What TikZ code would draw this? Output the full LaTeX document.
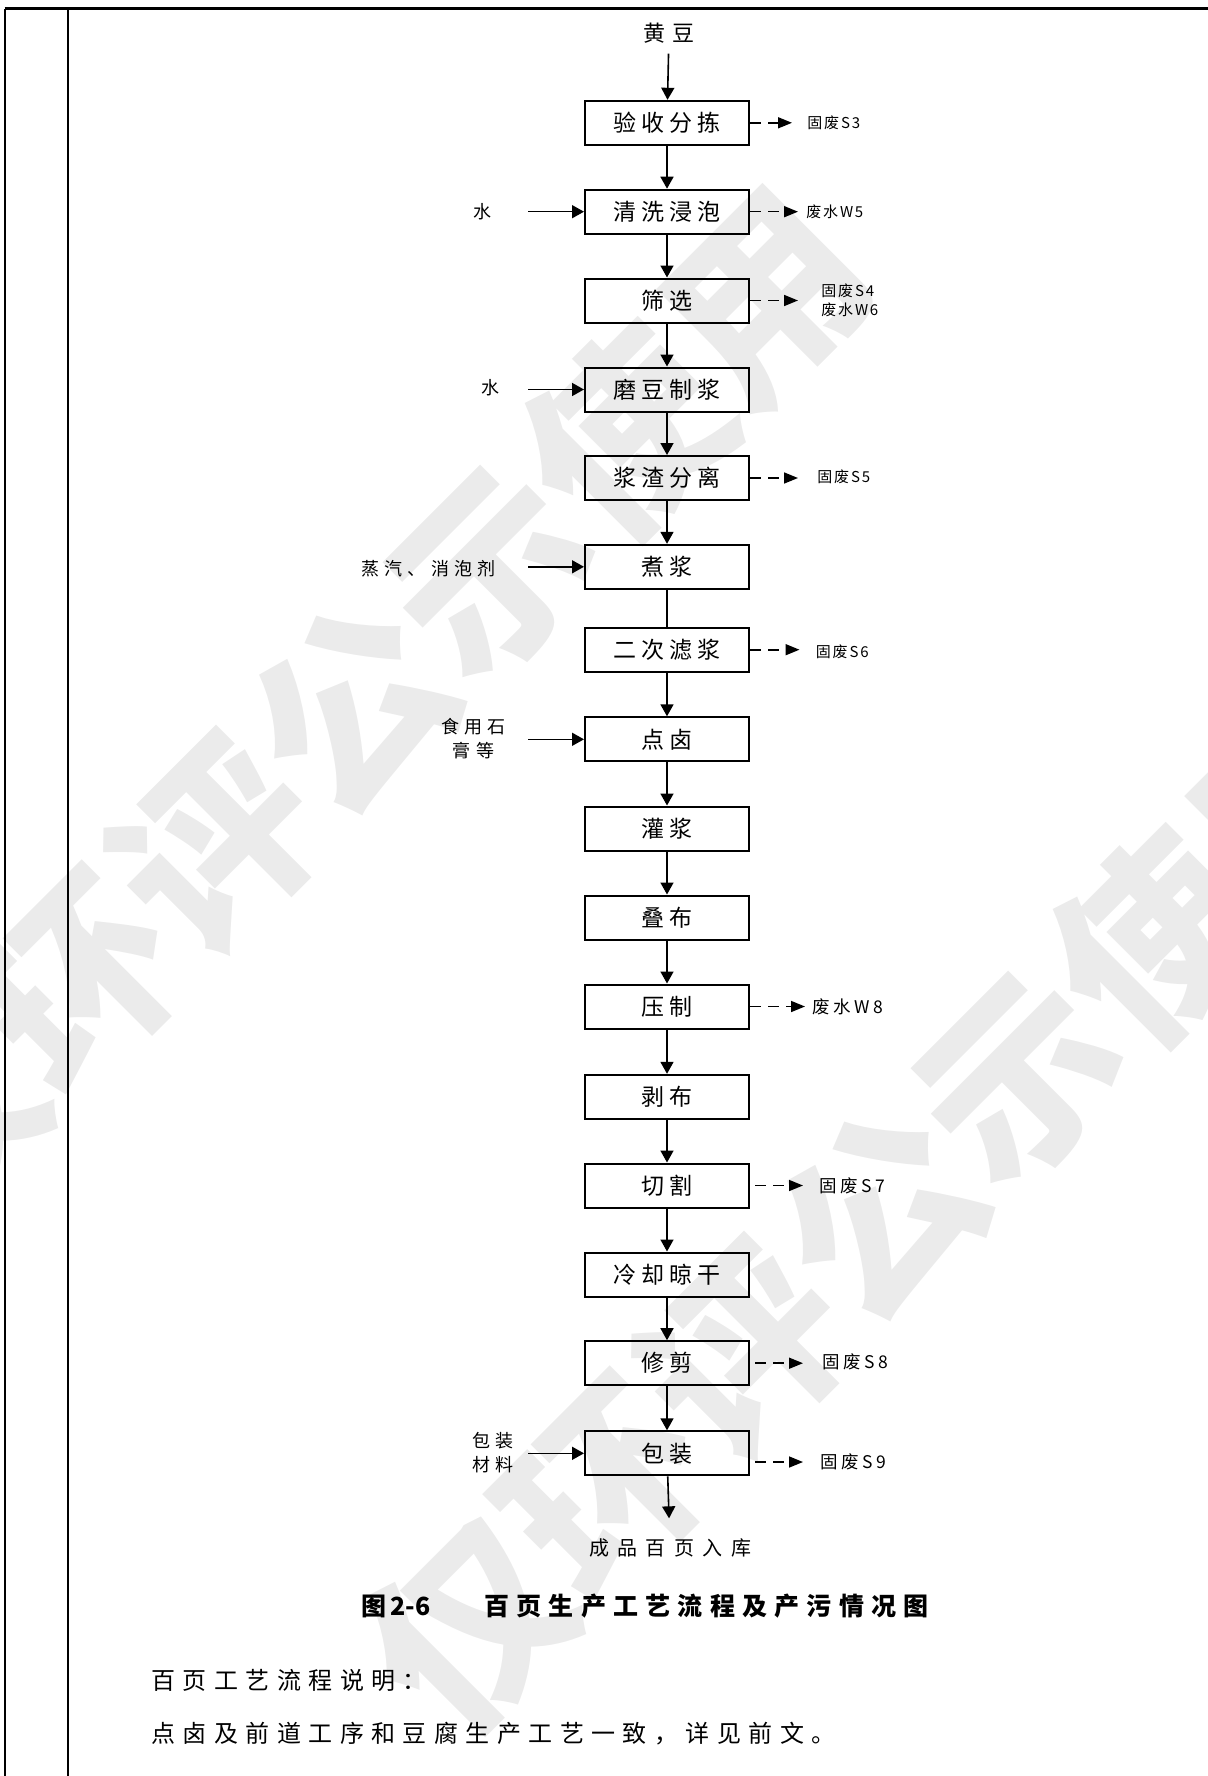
\documentclass[tikz,border=0pt]{standalone}
\usepackage{fontspec}
\setmainfont{Noto Sans CJK SC}
\usetikzlibrary{arrows.meta}

\begin{document}
\begin{tikzpicture}[x=0.5pt,y=-0.5pt,
    box/.style={draw,line width=1pt,minimum width=82pt,minimum height=22pt,inner sep=0pt,
      font=\fontsize{11.5}{13}\selectfont\addfontfeature{LetterSpace=22}},
    flow/.style={-{Triangle[length=6pt,width=6.5pt]},line width=0.8pt},
    waste/.style={-{Triangle[length=7pt,width=5.5pt]},line width=0.8pt,dash pattern=on 5.5pt off 3.5pt},
    feed/.style={inner sep=0pt,anchor=east,align=center,font=\fontsize{9}{12}\selectfont\addfontfeature{LetterSpace=28}},
    wsmall/.style={inner sep=0pt,anchor=west,align=left,font=\fontsize{7.5}{9.7}\selectfont\addfontfeature{LetterSpace=12}},
    wbig/.style={inner sep=0pt,anchor=west,font=\fontsize{8.75}{10}\selectfont\addfontfeature{LetterSpace=20}},
    wmark/.style={inner sep=0pt,rotate=45,text=black!8,font=\fontsize{97}{97}\selectfont\bfseries},
    body/.style={inner sep=0pt,anchor=west,font=\fontsize{12}{14}\selectfont\addfontfeature{LetterSpace=31}}]
\useasboundingbox (0,0) rectangle (1208,1776);
\node[wmark] (wm1) at (352,708) {仅环评公示使用};
\node[wmark] (wm2) at (880,1214) {仅环评公示使用};
\draw[line width=0.75pt] (5,9) -- (5,1776);
\draw[line width=0.75pt] (68,9) -- (68,1776);
\draw[line width=1.5pt] (4.6,9) -- (1208,9);

\node[inner sep=0pt,font=\fontsize{11}{13}\selectfont\addfontfeature{LetterSpace=30}] (huangdou) at (669,33) {黄豆};
\node[box] (yanshou) at (667,122.8) {验收分拣};
\node[box] (qingxi) at (667,211.7) {清洗浸泡};
\node[box] (shaixuan) at (667,300.5) {筛选};
\node[box] (modou) at (667,389.5) {磨豆制浆};
\node[box] (jiangzha) at (667,478) {浆渣分离};
\node[box] (zhujiang) at (667,566.8) {煮浆};
\node[box] (erci) at (667,649.7) {二次滤浆};
\node[box] (dianlu) at (667,739.3) {点卤};
\node[box] (guanjiang) at (667,828.5) {灌浆};
\node[box] (diebu) at (667,917.5) {叠布};
\node[box] (yazhi) at (667,1006.5) {压制};
\node[box] (bobu) at (667,1096.8) {剥布};
\node[box] (qiege) at (667,1185.5) {切割};
\node[box] (lengque) at (667,1274.5) {冷却晾干};
\node[box] (xiujian) at (667,1363.2) {修剪};
\node[box] (baozhuang) at (667,1453.3) {包装};
\node[inner sep=0pt,font=\fontsize{10}{12}\selectfont\addfontfeature{LetterSpace=42}] (chengpin) at (670,1548) {成品百页入库};

\node[feed] (shui1) at (492,212) {水};
\node[feed] (shui2) at (499.5,388) {水};
\node[feed] (zhengqi) at (495.5,569) {蒸汽、消泡剂};
\node[feed,anchor=center] (shigao) at (473.5,739) {食用石\\膏等};
\node[feed,anchor=center] (cailiao) at (493,1452.5) {包装\\材料};
\coordinate (feedx) at (528,0);

\node[wsmall] (s3) at (807,123) {固废S3};
\node[wsmall] (w5) at (806,212) {废水W5};
\node[wsmall] (s4w6) at (821,300.4) {固废S4\\废水W6};
\node[wsmall] (s5) at (817,477) {固废S5};
\node[wsmall] (s6) at (815.5,651.7) {固废S6};
\node[wbig] (w8) at (812,1006.7) {废水W8};
\node[wbig] (s7) at (819,1185.7) {固废S7};
\node[wbig] (s8) at (822,1361.7) {固废S8};
\node[wbig] (s9) at (820,1462) {固废S9};

\draw[flow,shorten <=5pt] (huangdou) -- (yanshou);
\draw[flow] (yanshou) -- (qingxi);
\draw[flow] (qingxi) -- (shaixuan);
\draw[flow] (shaixuan) -- (modou);
\draw[flow] (modou) -- (jiangzha);
\draw[flow] (jiangzha) -- (zhujiang);
\draw[line width=0.8pt] (zhujiang) -- (erci);
\draw[flow] (erci) -- (dianlu);
\draw[flow] (dianlu) -- (guanjiang);
\draw[flow] (guanjiang) -- (diebu);
\draw[flow] (diebu) -- (yazhi);
\draw[flow] (yazhi) -- (bobu);
\draw[flow] (bobu) -- (qiege);
\draw[flow] (qiege) -- (lengque);
\draw[flow] (lengque) -- (xiujian);
\draw[flow] (xiujian) -- (baozhuang);
\draw[flow,shorten >=10pt] (baozhuang) -- (chengpin);

\draw[flow] (feedx |- qingxi.west) -- (qingxi.west);
\draw[flow] (feedx |- modou.west) -- (modou.west);
\draw[flow] (feedx |- zhujiang.west) -- (zhujiang.west);
\draw[flow] (feedx |- dianlu.west) -- (dianlu.west);
\draw[flow] (feedx |- baozhuang.west) -- (baozhuang.west);

\draw[waste,shorten >=7.5pt] (yanshou.east) -- (yanshou.east -| s3.west);
\draw[waste,shorten >=4pt] (qingxi.east) -- (qingxi.east -| w5.west);
\draw[waste,shorten >=11.5pt] (shaixuan.east) -- (shaixuan.east -| s4w6.west);
\draw[waste,shorten >=9.5pt] (jiangzha.east) -- (jiangzha.east -| s5.west);
\draw[waste,shorten >=8pt] (erci.east) -- (erci.east -| s6.west);
\draw[waste,shorten >=3.5pt] (yazhi.east) -- (yazhi.east -| w8.west);
\draw[waste,shorten <=2.5pt,shorten >=8pt] (qiege.east) -- (qiege.east -| s7.west);
\draw[waste,shorten <=2.5pt,shorten >=9.5pt] (xiujian.east) -- (xiujian.east -| s8.west);
\draw[waste,shorten <=2.5pt,shorten >=8.5pt] (baozhuang.east |- s9.west) -- (s9.west);

\node[body,font=\fontsize{12.5}{14}\selectfont\bfseries\addfontfeature{LetterSpace=29}] (caption) at (361,1606) {图\hspace{2pt}{\addfontfeature{LetterSpace=0}2-6}\hspace{27pt}百页生产工艺流程及产污情况图};
\node[body] (note1) at (151,1680) {百页工艺流程说明：};
\node[body] (note2) at (151,1734) {点卤及前道工序和豆腐生产工艺一致，详见前文。};
\end{tikzpicture}
\end{document}
